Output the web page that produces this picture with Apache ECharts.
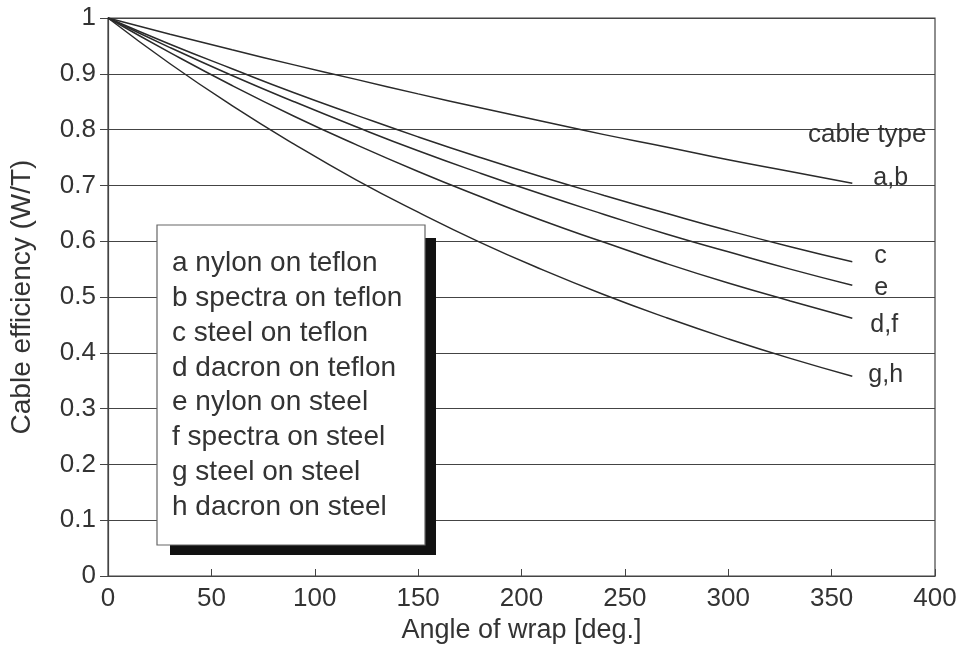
<!DOCTYPE html>
<html>
<head>
<meta charset="utf-8">
<script src="https://cdn.jsdelivr.net/npm/echarts@6/dist/echarts.min.js"></script>
<style>
html,body{margin:0;padding:0;background:#fff;}
#chart{width:964px;height:650px;}
</style>
</head>
<body>
<div id="chart"></div>
<script>
// ---- data ----
var angles = [0, 30, 60, 90, 120, 150, 180, 210, 240, 270, 300, 330, 360];
var curveAB = [1, 0.971, 0.943, 0.916, 0.890, 0.864, 0.839, 0.815, 0.791, 0.769, 0.746, 0.725, 0.704];
var curveC  = [1, 0.953, 0.909, 0.866, 0.826, 0.787, 0.750, 0.715, 0.682, 0.650, 0.619, 0.590, 0.563];
var curveE  = [1, 0.947, 0.897, 0.850, 0.805, 0.762, 0.722, 0.684, 0.648, 0.613, 0.581, 0.550, 0.521];
var curveDF = [1, 0.938, 0.879, 0.824, 0.773, 0.725, 0.680, 0.637, 0.598, 0.560, 0.525, 0.493, 0.462];
var curveGH = [1, 0.918, 0.843, 0.774, 0.710, 0.652, 0.598, 0.549, 0.504, 0.463, 0.425, 0.390, 0.358];
var seriesNames = ['a,b', 'c', 'e', 'd,f', 'g,h'];
var legendItems = ['a nylon on teflon', 'b spectra on teflon', 'c steel on teflon', 'd dacron on teflon',
                   'e nylon on steel', 'f spectra on steel', 'g steel on steel', 'h dacron on steel'];
var xTicks = [0, 50, 100, 150, 200, 250, 300, 350, 400];
var yTicks = [0, 0.1, 0.2, 0.3, 0.4, 0.5, 0.6, 0.7, 0.8, 0.9, 1];

var FONT = '"Liberation Sans", Arial, Helvetica, sans-serif';
var TXT = '#333333';
var LINE = '#2a2a2a';

function pairs(ys) { return angles.map(function (a, i) { return [a, ys[i]]; }); }

var curves = [curveAB, curveC, curveE, curveDF, curveGH];
var labelOffsets = [[13, -5], [14, -6], [14, 3], [10, 7], [8, -1]];

var series = curves.map(function (ys, i) {
  return {
    name: seriesNames[i],
    type: 'line',
    data: pairs(ys),
    smooth: true,
    showSymbol: false,
    lineStyle: { color: LINE, width: 1.5 },
    endLabel: {
      show: true,
      formatter: seriesNames[i],
      offset: labelOffsets[i],
      color: TXT,
      fontFamily: FONT,
      fontSize: 25
    },
    z: 3
  };
});

var chart = echarts.init(document.getElementById('chart'), null, { renderer: 'canvas' });
chart.setOption({
  backgroundColor: '#ffffff',
  animation: false,
  grid: { left: 106, right: 29, top: 18, bottom: 74, show: true, borderColor: '#444', borderWidth: 1.2, backgroundColor: 'transparent' },
  xAxis: {
    type: 'value', min: 0, max: 400, interval: 50,
    name: 'Angle of wrap [deg.]', nameLocation: 'middle', nameGap: 41,
    nameTextStyle: { color: TXT, fontFamily: FONT, fontSize: 27 },
    axisLine: { show: true, lineStyle: { color: '#444', width: 1.2 } },
    axisTick: { show: true, inside: true, length: 7, lineStyle: { color: '#444' } },
    axisLabel: { color: TXT, fontFamily: FONT, fontSize: 26, margin: 10 },
    splitLine: { show: false }
  },
  yAxis: {
    type: 'value', min: 0, max: 1, interval: 0.1,
    name: 'Cable efficiency (W/T)', nameLocation: 'middle', nameGap: 72,
    nameTextStyle: { color: TXT, fontFamily: FONT, fontSize: 28 },
    axisLine: { show: true, lineStyle: { color: '#444', width: 1.2 } },
    axisTick: { show: true, inside: false, length: 8, lineStyle: { color: '#444' } },
    axisLabel: { color: TXT, fontFamily: FONT, fontSize: 26, margin: 12,
      formatter: function (v) { return String(Math.round(v * 10) / 10); } },
    splitLine: { show: true, lineStyle: { color: '#444', width: 1.2 } }
  },
  series: series,
  graphic: [
    { type: 'rect', shape: { x: 170, y: 238, width: 266, height: 317 }, style: { fill: '#111' }, z: 10 },
    { type: 'rect', shape: { x: 157, y: 225, width: 268, height: 320 }, style: { fill: '#ffffff', stroke: '#666', lineWidth: 1.2 }, z: 11 },
    { type: 'text', x: 172, y: 246, z: 12,
      style: { text: legendItems.join('\n'), fill: TXT, font: '28px ' + FONT, lineHeight: 34.8 } },
    { type: 'text', x: 808, y: 122, z: 12,
      style: { text: 'cable type', fill: TXT, font: '26px ' + FONT } }
  ]
});
</script>
</body>
</html>
